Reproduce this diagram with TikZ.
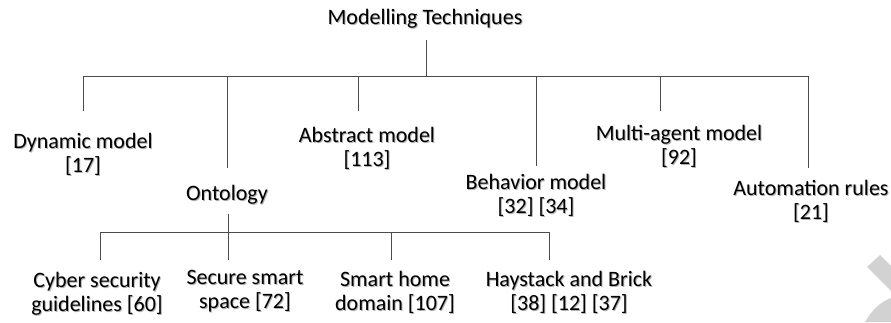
\documentclass[tikz,border=0pt]{standalone}
\usepackage{fontspec}
\setmainfont{Carlito}
\usetikzlibrary{positioning}
\newcommand{\shd}[1]{\rlap{\kern0.75pt\raisebox{-0.75pt}{\color{black!30}#1}}#1}
\tikzset{
  term/.style={font=\fontsize{16.5}{17.6}\selectfont, align=center, anchor=base, inner sep=0pt},
  link/.style={draw=black!70, line width=0.75pt}
}

\begin{document}
\begin{tikzpicture}[x=0.75pt,y=-0.75pt]
\useasboundingbox (0,0) rectangle (891,322);
% corner mark
\fill[gray!35] (867,267) -- (880,255) -- (891,266) -- (891,291) -- cycle;
\fill[gray!35] (865,322) .. controls (872,310) and (880,302) .. (891,298) -- (891,322) -- cycle;

% first level (base = last line)
\node[term] (root) at (425,24) {\shd{Modelling Techniques}};
\node[term] (dyn) at (83,172) {\shd{Dynamic model}\\\shd{[17]}};
\node[term] (onto) at (227,200) {\shd{Ontology}};
\node[term] (abs) at (367,166) {\shd{Abstract model}\\\shd{[113]}};
\node[term] (beh) at (536,213) {\shd{Behavior model}\\\shd{[32] [34]}};
\node[term] (mul) at (679,164) {\shd{Multi-agent model}\\\shd{[92]}};
\node[term] (aut) at (811,219) {\shd{Automation rules}\\\shd{[21]}};

% second level
\node[term] (cyb) at (97,311) {\shd{Cyber security}\\\shd{guidelines [60]}};
\node[term] (sec) at (245,308) {\shd{Secure smart}\\\shd{space [72]}};
\node[term] (shd) at (395,310) {\shd{Smart home}\\\shd{domain [107]}};
\node[term] (hay) at (569,310) {\shd{Haystack and Brick}\\\shd{[38] [12] [37]}};

\coordinate (root-out) at (426,40);
\coordinate (bus) at (426,76);
\coordinate (dyn-in) at (83,111);
\coordinate (onto-in) at (227,168);
\coordinate (abs-in) at (358,111);
\coordinate (beh-in) at (536,166);
\coordinate (mul-in) at (660,111);
\coordinate (aut-in) at (808,168);

\coordinate (onto-out) at (228,214);
\coordinate (sub) at (228,232);
\coordinate (cyb-in) at (100,260);
\coordinate (sec-in) at (228,260);
\coordinate (shd-in) at (391,260);
\coordinate (hay-in) at (549,260);

\draw[link] (root-out) -- (bus);
\draw[link] (dyn-in |- bus) -- (aut-in |- bus);
\foreach \c in {dyn,onto,abs,beh,mul,aut}
  \draw[link] (\c-in |- bus) -- (\c-in);

\draw[link] (onto-out) -- (sub);
\draw[link] (cyb-in |- sub) -- (hay-in |- sub);
\foreach \c in {cyb,sec,shd,hay}
  \draw[link] (\c-in |- sub) -- (\c-in);
\end{tikzpicture}
\end{document}
